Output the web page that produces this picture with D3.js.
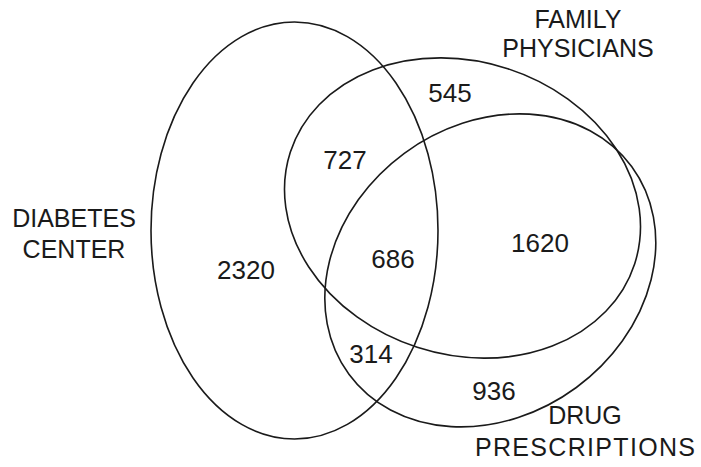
<!DOCTYPE html>
<meta charset="utf-8">
<style>
body { margin: 0; background: #fff; }
.set { fill: none; stroke: #1a1a1a; stroke-width: 1.6px; }
.count, .setname { font-family: "Liberation Sans", Arial, Helvetica, sans-serif; fill: #1a1a1a; text-anchor: middle; }
.count { font-size: 26px; }
.setname { font-size: 25px; }
</style>
<svg width="701" height="467"></svg>
<script src="https://d3js.org/d3.v7.min.js"></script>
<script>

// data: the three sources and the size of each overlap region
var setNames = [["DIABETES", "CENTER"], ["FAMILY", "PHYSICIANS"], ["DRUG", "PRESCRIPTIONS"]];
var regionKeys = ["D", "DF", "DFP", "DP", "F", "FP", "P"];
var regionCounts = [2320, 727, 686, 314, 545, 1620, 936];

var svg = d3.select("svg");
var width = +svg.attr("width");
var height = +svg.attr("height");

// diagram is laid out in a 701 x 467 unit space
var x = d3.scaleLinear().domain([0, 701]).range([0, width]);
var y = d3.scaleLinear().domain([0, 467]).range([0, height]);

// ellipse geometry: centre, radii, rotation (degrees)
var ellipses = [
    {cx: 294.5, cy: 230.5, rx: 143.5, ry: 208.5, rot: 0},
    {cx: 462.5, cy: 208, rx: 181, ry: 146.5, rot: 18},
    {cx: 490.3, cy: 270.4, rx: 175.4, ry: 145.3, rot: -36.3}
];

// where each count sits (baseline)
var regionPos = {
    D:   [246, 279],
    DF:  [345, 169],
    DFP: [393, 268],
    DP:  [371, 363],
    F:   [450, 102],
    FP:  [540, 252],
    P:   [494, 400]
};

// where each set name sits: centre x, first baseline, line spacing, widths (0 = natural)
var namePos = [
    [74, 227, 31, [0, 0]],
    [578, 28, 28.5, [0, 0]],
    [585, 424, 32, [0, 220]]
];

svg.selectAll(".set")
    .data(ellipses)
    .enter().append("ellipse")
    .attr("class", "set")
    .attr("transform", function(d) { return "translate(" + x(d.cx) + "," + y(d.cy) + ") rotate(" + d.rot + ")"; })
    .attr("rx", function(d) { return x(d.rx) - x(0); })
    .attr("ry", function(d) { return y(d.ry) - y(0); });

svg.selectAll(".count")
    .data(regionKeys)
    .enter().append("text")
    .attr("class", "count")
    .attr("x", function(k) { return x(regionPos[k][0]); })
    .attr("y", function(k) { return y(regionPos[k][1]); })
    .text(function(k, i) { return regionCounts[i]; });

var names = svg.selectAll(".setname")
    .data(setNames)
    .enter().append("text")
    .attr("class", "setname");

names.selectAll("tspan")
    .data(function(d, i) { return d.map(function(line, j) { return {line: line, j: j, i: i}; }); })
    .enter().append("tspan")
    .attr("x", function(d) { return x(namePos[d.i][0]); })
    .attr("y", function(d) { return y(namePos[d.i][1] + d.j * namePos[d.i][2]); })
    .each(function(d) {
        var w = namePos[d.i][3][d.j];
        if (w) d3.select(this).attr("textLength", w).attr("lengthAdjust", "spacing");
    })
    .text(function(d) { return d.line; });

</script>
